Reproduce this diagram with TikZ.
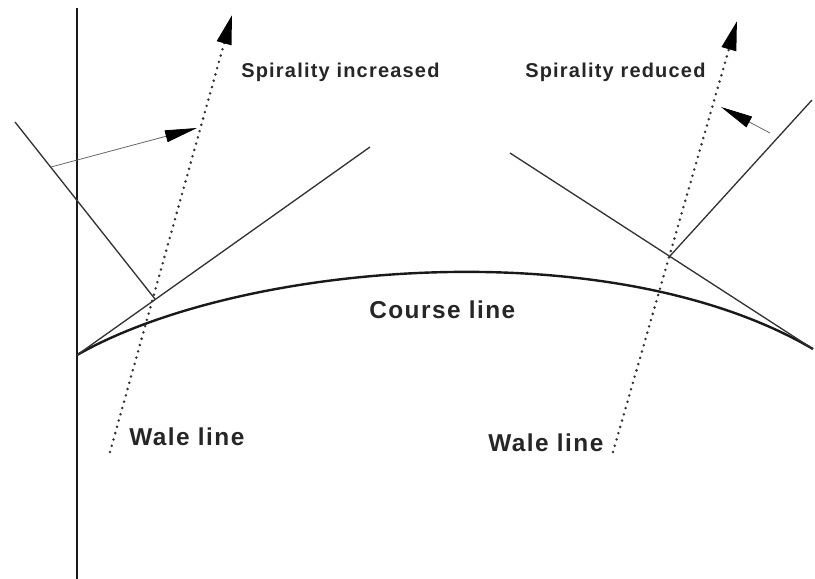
\documentclass[tikz,border=0pt]{standalone}
\usepackage{fontspec}
\setmainfont{Liberation Sans}
\newfontfamily\labelfont{Liberation Sans}[LetterSpace=6]
\usetikzlibrary{arrows.meta}
\begin{document}
\begin{tikzpicture}[x=0.75pt,y=-0.75pt,
  axisline/.style={line width=2pt, black!90},
  courseline/.style={line width=1.8pt, black!90},
  thinline/.style={line width=1pt, black!80},
  waledots/.style={line width=2.1pt, black!80, line cap=round, dash pattern=on 0pt off 4.9pt,
    -{Triangle[length=22pt,width=11pt,black]}},
  shiftarrow/.style={line width=0.6pt, black!60, -{Triangle[length=24pt,width=9pt, black]}},
  smalllabel/.style={anchor=base west, inner sep=0pt, text=black!85,
    font=\labelfont\bfseries\fontsize{15}{18}\selectfont},
  biglabel/.style={anchor=base west, inner sep=0pt, text=black!85,
    font=\labelfont\bfseries\fontsize{18.3}{21}\selectfont}
]
\useasboundingbox (0,0) rectangle (815,579);

% key points
\coordinate (axTop) at (77,8);
\coordinate (axBot) at (77,579);
\coordinate (cStart) at (77,355);
\coordinate (cEnd) at (813,349);

% left construction
\coordinate (lA) at (15,122);
\coordinate (lX) at (155,299);
\coordinate (lT) at (370,147);
\coordinate (lArrS) at (51,167);
\coordinate (lArrE) at (197,128);
\coordinate (lWb) at (110,452);
\coordinate (lWt) at (232,15);

% right construction
\coordinate (rA) at (510,153);
\coordinate (rX) at (670,256);
\coordinate (rT) at (812,100);
\coordinate (rArrS) at (770,133);
\coordinate (rArrE) at (721,107);
\coordinate (rWb) at (613,452);
\coordinate (rWt) at (737,21);

% vertical axis
\draw[axisline] (axTop) -- (axBot);

% course line
\draw[courseline] (cStart) .. controls (240,262) and (610,230) .. (cEnd);

% left lines
\draw[thinline] (lA) -- (lX);
\draw[thinline] (cStart) -- (lT);
\draw[shiftarrow] (lArrS) -- (lArrE);
\draw[waledots] (lWb) -- (lWt);

% right lines
\draw[thinline] (rA) -- (cEnd);
\draw[thinline] (rX) -- (rT);
\draw[shiftarrow] (rArrS) -- (rArrE);
\draw[waledots] (rWb) -- (rWt);

% labels
\node[smalllabel] (incr) at (241,77) {Spirality increased};
\node[smalllabel] (redu) at (525,77) {Spirality reduced};
\node[biglabel] (course) at (369,318) {Course line};
\node[biglabel] (waleL) at (129,445) {Wale line};
\node[biglabel] (waleR) at (488,451) {Wale line};
\end{tikzpicture}
\end{document}
